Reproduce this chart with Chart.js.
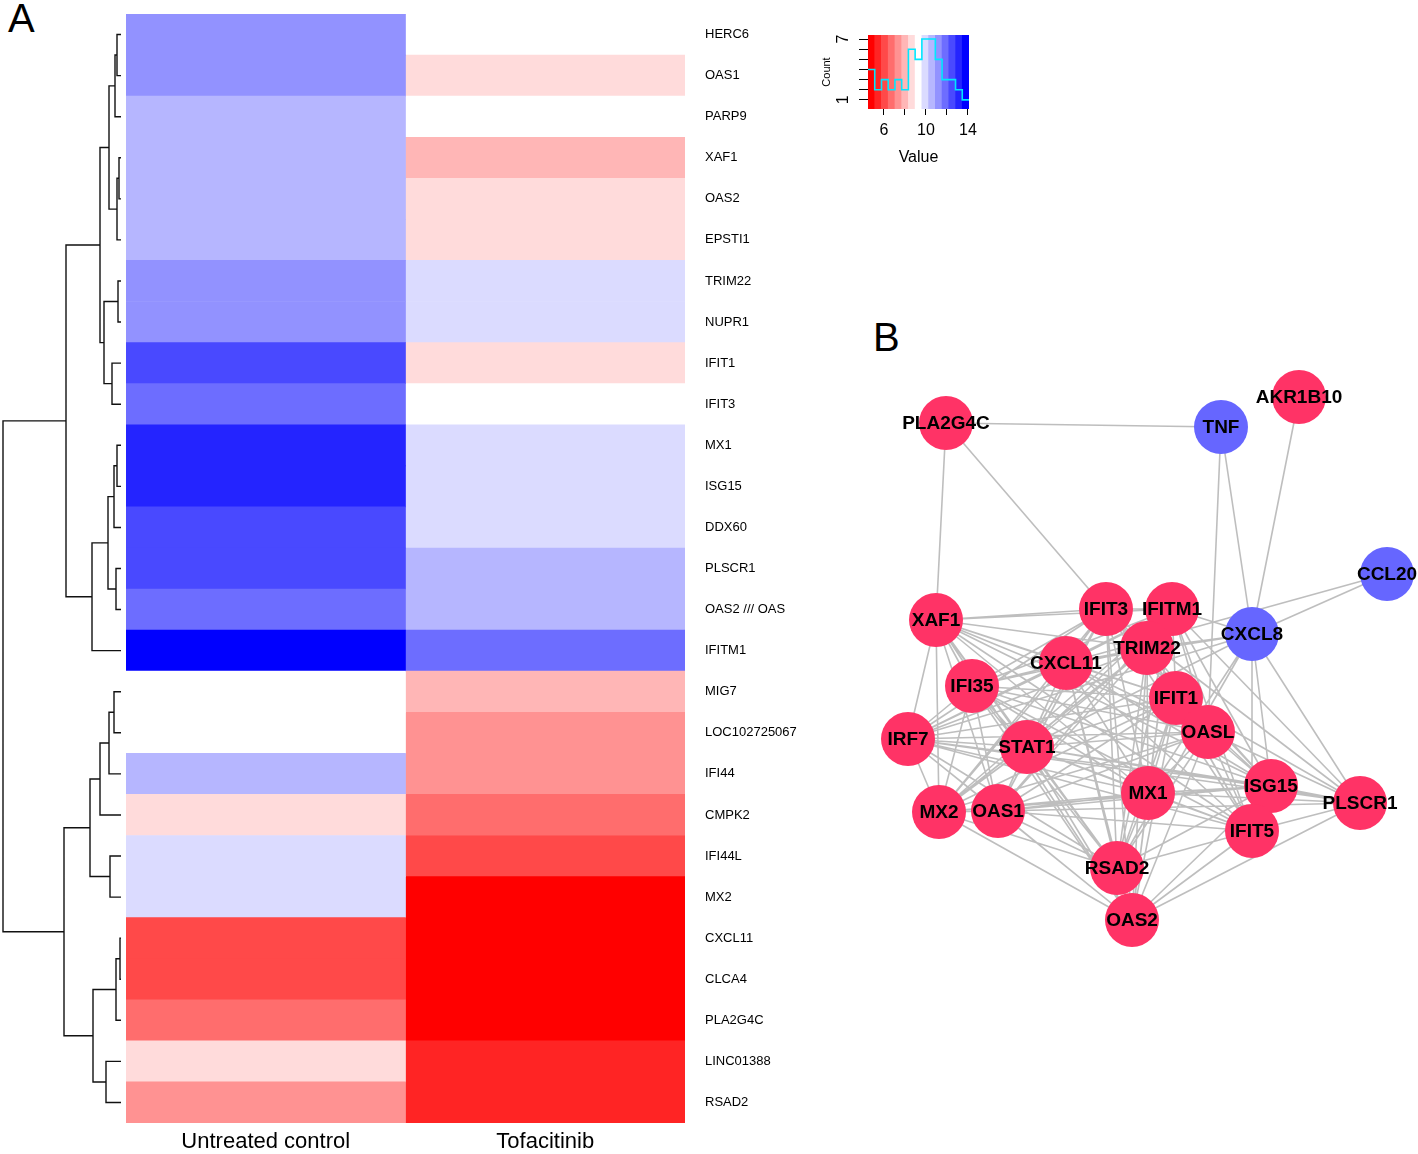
<!DOCTYPE html>
<html>
<head>
<meta charset="utf-8">
<script src="https://cdn.jsdelivr.net/npm/chart.js@4.4.1/dist/chart.umd.min.js"></script>
<style>
  html, body { margin: 0; padding: 0; background: #fff; }
  #page { position: relative; width: 1418px; height: 1154px; overflow: hidden;
          font-family: 'Liberation Sans', Arial, sans-serif; }
  canvas, .panel { position: absolute; }
  .panel { font-size: 40px; line-height: 40px; color: #000; }
</style>
</head>
<body>
<div id="page">
  <div class="panel" style="left:8px;top:-2px">A</div>
  <div class="panel" style="left:873px;top:317px">B</div>
  <canvas id="dendro" width="126" height="1154" style="left:0;top:0"></canvas>
  <canvas id="heat" width="694" height="1154" style="left:126px;top:0"></canvas>
  <canvas id="key" width="200" height="150" style="left:790px;top:20px"></canvas>
  <canvas id="net" width="558" height="620" style="left:860px;top:350px"></canvas>
</div>
<script>
// ---- heatmap data ----
const genes = ["HERC6", "OAS1", "PARP9", "XAF1", "OAS2", "EPSTI1", "TRIM22", "NUPR1",
  "IFIT1", "IFIT3", "MX1", "ISG15", "DDX60", "PLSCR1", "OAS2 /// OAS", "IFITM1",
  "MIG7", "LOC102725067", "IFI44", "CMPK2", "IFI44L", "MX2", "CXCL11", "CLCA4",
  "PLA2G4C", "LINC01388", "RSAD2"];
const columns = ["Untreated control", "Tofacitinib"];
const untreated = [11.3, 11.1, 10.5, 10.7, 10.6, 10.4, 11.2, 11.0, 12.6, 11.8, 13.2, 13.1,
  12.4, 12.5, 11.9, 13.9, 9.2, 9.4, 10.6, 8.7, 9.9, 10.0, 6.1, 6.0, 6.8, 8.6, 7.3];
const tofacitinib = [9.3, 8.7, 9.2, 8.0, 8.6, 8.5, 9.9, 9.8, 8.8, 9.4, 10.0, 9.9,
  9.7, 10.6, 10.5, 11.8, 7.9, 7.4, 7.3, 6.7, 6.1, 4.7, 4.8, 4.6, 4.9, 5.4, 5.5];

// row dendrogram: [height, left, right], leaves are gene names
const rowTree =
  [11.8,
    [5.5,
      [2.1,
        [1.2, [0.6, [0.4, "HERC6", "OAS1"], "PARP9"], [0.4, [0.2, "XAF1", "OAS2"], "EPSTI1"]],
        [1.7, [0.3, "TRIM22", "NUPR1"], [0.9, "IFIT1", "IFIT3"]]],
      [2.9, [1.3, [0.7, [0.4, "MX1", "ISG15"], "DDX60"], [0.5, "PLSCR1", "OAS2 /// OAS"]], "IFITM1"]],
    [5.7,
      [3.1, [2.1, [1.2, [0.7, "MIG7", "LOC102725067"], "IFI44"], "CMPK2"], [1.1, "IFI44L", "MX2"]],
      [2.8, [0.5, [0.1, "CXCL11", "CLCA4"], "PLA2G4C"], [1.5, "LINC01388", "RSAD2"]]]];

// ---- colour key ----
const keyRange = [4.476, 14.1];
const keyBins = 15;
const histCounts = [4, 2, 3, 2, 3, 2, 6, 5, 7, 7, 5, 3, 3, 2, 1];
const keyXTicks = [6, 8, 10, 12, 14];
const keyXLabels = [6, 10, 14];
const keyYTicks = [1, 2, 3, 4, 5, 6, 7];
const keyYLabels = [1, 7];

// ---- network ----
const nodeNames = ["PLA2G4C", "TNF", "AKR1B10", "CCL20", "XAF1", "IFIT3", "IFITM1", "CXCL8",
  "TRIM22", "CXCL11", "IFI35", "IFIT1", "OASL", "IRF7", "STAT1", "MX1", "ISG15",
  "PLSCR1", "MX2", "OAS1", "IFIT5", "RSAD2", "OAS2"];
const nodeX = [86, 361, 439, 527, 76, 246, 312, 392, 287, 206, 112, 316, 348, 48, 167, 288, 411,
  500, 79, 138, 392, 257, 272];
const nodeY = [73, 77, 47, 224, 270, 259, 259, 284, 298, 313, 336, 348, 382, 389, 397, 443, 436,
  453, 462, 461, 481, 518, 570];
const nodeGroup = ["up", "down", "up", "down", "up", "up", "up", "down", "up", "up", "up", "up",
  "up", "up", "up", "up", "up", "up", "up", "up", "up", "up", "up"];
const netEdges = [
  ["PLA2G4C", "TNF XAF1 IFIT3"],
  ["TNF", "CXCL8 OASL"],
  ["AKR1B10", "CXCL8"],
  ["CCL20", "CXCL8 CXCL11"],
  ["CXCL8", "IFITM1 TRIM22 CXCL11 IRF7 STAT1 MX1 ISG15 PLSCR1 IFIT5 RSAD2"],
  ["XAF1", "IFIT3 IFITM1 TRIM22 CXCL11 IFI35 IFIT1 OASL IRF7 STAT1 MX1 ISG15 MX2 OAS1 IFIT5 RSAD2 OAS2"],
  ["IFIT3", "IFITM1 TRIM22 CXCL11 IFI35 IFIT1 OASL IRF7 STAT1 MX1 ISG15 PLSCR1 MX2 OAS1 IFIT5 RSAD2 OAS2"],
  ["IFITM1", "TRIM22 CXCL11 IFI35 IFIT1 OASL IRF7 STAT1 MX1 ISG15 PLSCR1 MX2 OAS1 IFIT5 RSAD2 OAS2"],
  ["TRIM22", "CXCL11 IFI35 IFIT1 OASL IRF7 STAT1 MX1 ISG15 MX2 OAS1 IFIT5 RSAD2 OAS2"],
  ["CXCL11", "IFI35 IFIT1 OASL IRF7 STAT1 MX1 ISG15 MX2 OAS1 IFIT5 RSAD2 OAS2"],
  ["IFI35", "IFIT1 OASL IRF7 STAT1 MX1 ISG15 MX2 OAS1 IFIT5 RSAD2 OAS2"],
  ["IFIT1", "OASL IRF7 STAT1 MX1 ISG15 PLSCR1 MX2 OAS1 IFIT5 RSAD2 OAS2"],
  ["OASL", "IRF7 STAT1 MX1 ISG15 PLSCR1 MX2 OAS1 IFIT5 RSAD2 OAS2"],
  ["IRF7", "STAT1 MX1 ISG15 PLSCR1 MX2 OAS1 IFIT5 RSAD2 OAS2"],
  ["STAT1", "MX1 ISG15 PLSCR1 MX2 OAS1 IFIT5 RSAD2 OAS2"],
  ["MX1", "ISG15 PLSCR1 MX2 OAS1 IFIT5 RSAD2 OAS2"],
  ["ISG15", "PLSCR1 MX2 OAS1 IFIT5 RSAD2 OAS2"],
  ["PLSCR1", "OAS1 IFIT5 OAS2"],
  ["MX2", "OAS1 RSAD2 OAS2"],
  ["OAS1", "IFIT5 RSAD2 OAS2"],
  ["IFIT5", "RSAD2 OAS2"],
  ["RSAD2", "OAS2"]
];

Chart.defaults.font.family = "'Liberation Sans', Arial, sans-serif";
Chart.defaults.color = "#000";
Chart.defaults.animation = false;
Chart.defaults.responsive = false;
Chart.defaults.layout.autoPadding = false;
Chart.defaults.plugins.legend.display = false;
Chart.defaults.plugins.tooltip.enabled = false;

const binWidth = (keyRange[1] - keyRange[0]) / keyBins;

/**
 * colour of a key bin, red - white - blue like colorRampPalette
 */
function binColour(k) {
  const half = (keyBins - 1) / 2;
  if (k < half) {
    const c = Math.round(255 * k / half);
    return "rgb(255," + c + "," + c + ")";
  }
  const c = Math.round(255 * (keyBins - 1 - k) / half);
  return "rgb(" + c + "," + c + ",255)";
}

function valueColour(v) {
  let k = Math.floor((v - keyRange[0]) / binWidth);
  k = Math.max(0, Math.min(keyBins - 1, k));
  return binColour(k);
}

/**
 * fix a scale's size and drop the label overhang padding
 */
function fixSize(w, h) {
  return function (s) {
    if (w !== null) s.width = w;
    if (h !== null) s.height = h;
    s.paddingTop = 0;
    s.paddingBottom = 0;
    s.paddingLeft = 0;
    s.paddingRight = 0;
  };
}

/**
 * dendrogram line points, null breaks segments
 */
function dendroPoints() {
  const pts = [];
  function walk(node) {
    if (typeof node === "string")
      return { y: genes.indexOf(node), h: 0 };
    const a = walk(node[1]);
    const b = walk(node[2]);
    const h = node[0];
    pts.push({ x: a.h, y: a.y }, { x: h, y: a.y }, { x: h, y: b.y }, { x: b.h, y: b.y });
    pts.push({ x: null, y: null });
    return { y: (a.y + b.y) / 2, h: h };
  }
  walk(rowTree);
  return pts;
}

function runDendrogram() {
  new Chart(document.getElementById("dendro"), {
    type: "scatter",
    data: {
      datasets: [{
        data: dendroPoints(),
        showLine: true,
        spanGaps: false,
        borderColor: "#111",
        borderWidth: 1.4,
        pointRadius: 0,
        clip: false
      }]
    },
    options: {
      layout: { padding: { top: 14, bottom: 31, left: 0, right: 0 } },
      scales: {
        x: { type: "linear", min: -0.5, max: 12.1, reverse: true, display: false },
        y: { type: "linear", min: -0.5, max: genes.length - 0.5, reverse: true, display: false }
      }
    }
  });
}

function runHeatmap() {
  const sets = [untreated, tofacitinib].map(function (vals, i) {
    return {
      label: columns[i],
      data: vals.map(() => 1),
      backgroundColor: vals.map(valueColour),
      borderWidth: 0,
      barPercentage: 1,
      categoryPercentage: 1
    };
  });

  new Chart(document.getElementById("heat"), {
    type: "bar",
    data: { labels: genes, datasets: sets },
    options: {
      indexAxis: "y",
      layout: { padding: { top: 14, left: 0, right: 0, bottom: 0 } },
      scales: {
        x: {
          type: "linear", min: 0, max: 2, stacked: true,
          grid: { display: false, drawTicks: false },
          border: { display: false },
          afterBuildTicks: (s) => { s.ticks = [{ value: 0.5 }, { value: 1.5 }]; },
          afterFit: fixSize(null, 31),
          ticks: {
            autoSkip: false, maxRotation: 0, padding: 6,
            font: { size: 22 },
            callback: (v, i) => columns[i]
          }
        },
        y: {
          position: "right", stacked: true,
          grid: { display: false, drawTicks: false },
          border: { display: false },
          afterFit: fixSize(135, null),
          ticks: { autoSkip: false, padding: 20, font: { size: 13 } }
        }
      }
    }
  });
}

function runKey() {
  const labels = [];
  const colours = [];
  const bands = [];
  for (let k = 0; k < keyBins; k++) {
    labels.push(String(k));
    colours.push(binColour(k));
    bands.push([0.1, 7.4]);
  }
  const steps = histCounts.map((c, i) => ({ x: keyRange[0] + i * binWidth, y: c }));
  steps.push({ x: keyRange[1], y: histCounts[histCounts.length - 1] });

  new Chart(document.getElementById("key"), {
    type: "bar",
    data: {
      labels: labels,
      datasets: [
        {
          type: "line", data: steps, xAxisID: "x", yAxisID: "y",
          stepped: true, borderColor: "#00e8ff", borderWidth: 1.6,
          pointRadius: 0, clip: false
        },
        {
          type: "bar", data: bands, xAxisID: "xb", yAxisID: "y",
          backgroundColor: colours, borderWidth: 0, grouped: false,
          barPercentage: 1, categoryPercentage: 1
        }
      ]
    },
    options: {
      datasets: { bar: { barPercentage: 1, categoryPercentage: 1 } },
      layout: { padding: { top: 15, right: 21, left: 0, bottom: 0 } },
      scales: {
        x: {
          type: "linear", position: "bottom", min: keyRange[0], max: keyRange[1],
          offset: false,
          grid: { drawOnChartArea: false, offset: false, tickLength: 6, color: "#000" },
          border: { display: false },
          afterBuildTicks: (s) => { s.ticks = keyXTicks.map((v) => ({ value: v })); },
          afterFit: fixSize(null, 61),
          ticks: {
            autoSkip: false, maxRotation: 0, padding: 6, font: { size: 16 },
            callback: (v) => (keyXLabels.indexOf(v) >= 0 ? String(v) : "")
          },
          title: { display: true, text: "Value", font: { size: 16 }, padding: { top: 0, bottom: 3 } }
        },
        xb: {
          type: "category", display: false, offset: true,
          grid: { offset: true },
          ticks: { autoSkip: false }
        },
        y: {
          type: "linear", position: "left", min: 0.1, max: 7.4,
          grid: { drawOnChartArea: false, tickLength: 9, color: "#000" },
          border: { display: false },
          afterBuildTicks: (s) => { s.ticks = keyYTicks.map((v) => ({ value: v })); },
          afterFit: fixSize(78, null),
          ticks: {
            autoSkip: false, minRotation: 90, maxRotation: 90, crossAlign: "center",
            padding: 11, font: { size: 16 },
            callback: (v) => (keyYLabels.indexOf(v) >= 0 ? String(v) : "")
          },
          title: { display: true, text: "Count", font: { size: 11 }, padding: { top: 30, bottom: 0 } }
        }
      }
    }
  });
}

/**
 * node labels drawn on top of the circles
 */
const nodeLabelPlugin = {
  id: "nodeLabels",
  afterDatasetsDraw(chart) {
    const meta = chart.getDatasetMeta(0);
    const ctx = chart.ctx;
    ctx.save();
    ctx.font = "bold 19px 'Liberation Sans', Arial, sans-serif";
    ctx.fillStyle = "#000";
    ctx.textAlign = "center";
    ctx.textBaseline = "middle";
    meta.data.forEach((el, i) => ctx.fillText(nodeNames[i], el.x, el.y + 1));
    ctx.restore();
  }
};

function runNetwork() {
  const edgePts = [];
  netEdges.forEach(([from, list]) => {
    const a = nodeNames.indexOf(from);
    list.split(" ").forEach((to) => {
      const b = nodeNames.indexOf(to);
      edgePts.push({ x: nodeX[a], y: nodeY[a] }, { x: nodeX[b], y: nodeY[b] }, { x: null, y: null });
    });
  });

  new Chart(document.getElementById("net"), {
    type: "scatter",
    data: {
      datasets: [
        {
          data: nodeNames.map((n, i) => ({ x: nodeX[i], y: nodeY[i] })),
          pointRadius: 27,
          pointBackgroundColor: nodeGroup.map((g) => (g === "up" ? "#ff3366" : "#6666ff")),
          pointBorderWidth: 0,
          clip: false
        },
        {
          data: edgePts,
          showLine: true, spanGaps: false,
          borderColor: "rgba(125,125,125,0.5)", borderWidth: 1.6,
          pointRadius: 0, clip: false
        }
      ]
    },
    options: {
      layout: { padding: 0, autoPadding: false },
      scales: {
        x: { type: "linear", min: 0, max: 558, display: false },
        y: { type: "linear", min: 0, max: 620, reverse: true, display: false }
      }
    },
    plugins: [nodeLabelPlugin]
  });
}

runDendrogram();
runHeatmap();
runKey();
runNetwork();
</script>
</body>
</html>
